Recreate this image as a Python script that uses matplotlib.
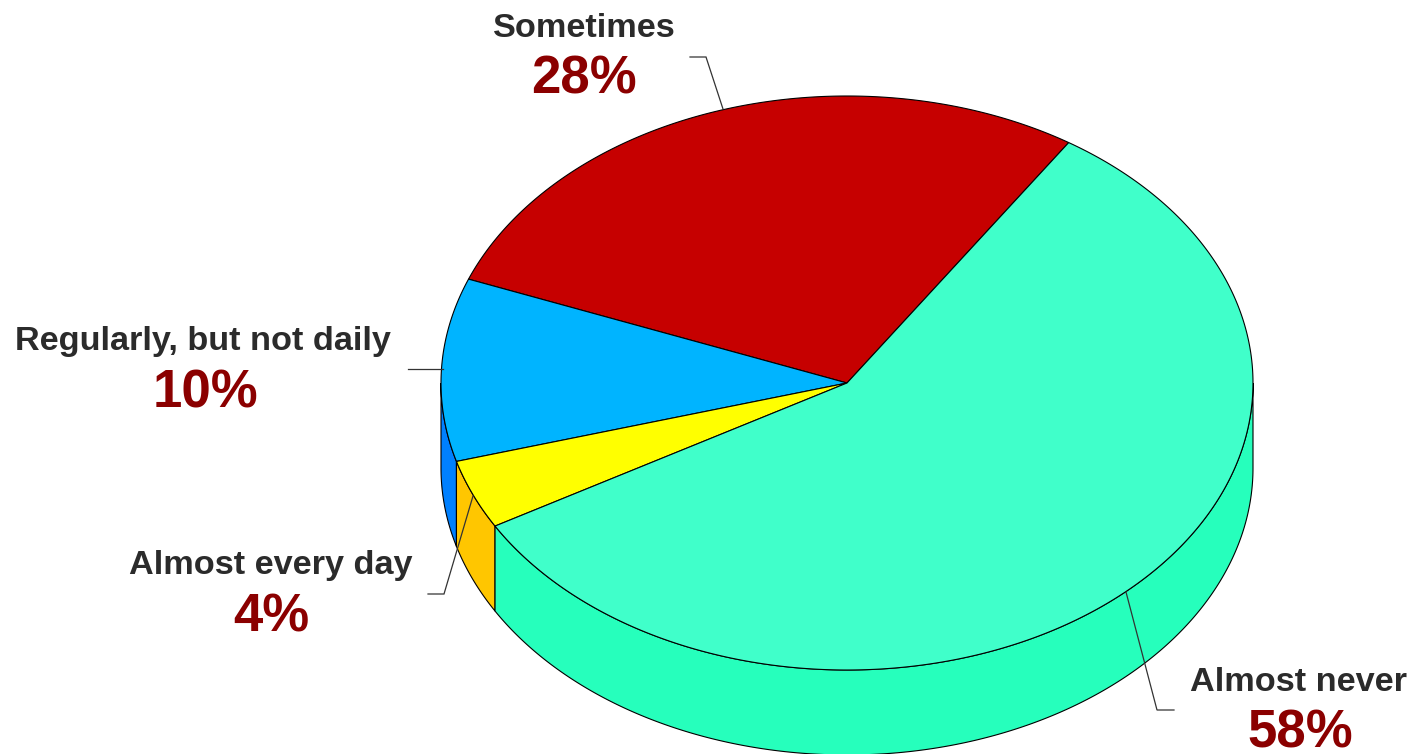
import numpy as np
import matplotlib
matplotlib.use("Agg")
import matplotlib.pyplot as plt
from matplotlib.patches import Polygon

plt.rcParams["font.family"] = ["Liberation Sans", "DejaVu Sans"]

# values in drawing order, counter-clockwise from the start angle
categories = ["Sometimes", "Regularly, but not daily", "Almost every day", "Almost never"]
shares = [28.3, 10.3, 3.9, 57.5]
percent_labels = ["28%", "10%", "4%", "58%"]

top_colors = ["#C60000", "#00B4FF", "#FFFF00", "#40FFCA"]
wall_colors = ["#8A0000", "#0080FF", "#FFC600", "#26FFBC"]
label_color = "#2B2B2B"
percent_color = "#8B0000"

# pie geometry in pixels
CX, CY = 847, 383
RX, RY = 406, 287
DEPTH = 85
START_ANGLE = 56.9

# (label x, label baseline, percent x, percent baseline)
label_pos = [
    (584, 37, 584, 94),
    (203, 350, 205, 407),
    (271, 574, 271, 631),
    (1298, 691, 1300, 747),
]
# leader polylines, pie end last
leaders = [
    [(690, 57), (706, 57), (723, 109)],
    [(408, 369), (443, 369)],
    [(428, 594), (444, 594), (473, 496)],
    [(1174, 710), (1157, 710), (1126, 592)],
]


def rim(t, drop=0):
    t = np.radians(t)
    return np.column_stack([CX + RX * np.cos(t), CY - RY * np.sin(t) + drop])


fig = plt.figure(figsize=(14.09, 7.54), dpi=100)
ax = fig.add_axes([0, 0, 1, 1])
ax.set_xlim(0, 1409)
ax.set_ylim(754, 0)
ax.axis("off")

edges = START_ANGLE + np.concatenate([[0], np.cumsum(shares)]) * 3.6

# side walls, only the front half of the rim shows
for a, b, color in zip(edges[:-1], edges[1:], wall_colors):
    for lo, hi in [(a, b), (a - 360, b - 360)]:
        lo, hi = max(lo, 180), min(hi, 360)
        if hi <= lo:
            continue
        t = np.linspace(lo, hi, 300)
        pts = np.vstack([rim(t), rim(t[::-1], DEPTH)])
        ax.add_patch(Polygon(pts, closed=True, facecolor=color, edgecolor="black",
                             linewidth=0.8, clip_on=False))

# top face
for a, b, color in zip(edges[:-1], edges[1:], top_colors):
    t = np.linspace(a, b, 400)
    pts = np.vstack([[CX, CY], rim(t)])
    ax.add_patch(Polygon(pts, closed=True, facecolor=color, edgecolor="black", linewidth=0.8))

for line in leaders:
    xs, ys = zip(*line)
    ax.plot(xs, ys, color="#333333", linewidth=0.9, solid_joinstyle="miter")

for name, pct, (x1, y1, x2, y2) in zip(categories, percent_labels, label_pos):
    ax.text(x1, y1, name, ha="center", va="baseline", fontsize=24.7,
            fontweight="bold", color=label_color)
    ax.text(x2, y2, pct, ha="center", va="baseline", fontsize=38,
            fontweight="bold", color=percent_color)

fig.savefig("out.png", dpi=100)
plt.close(fig)
